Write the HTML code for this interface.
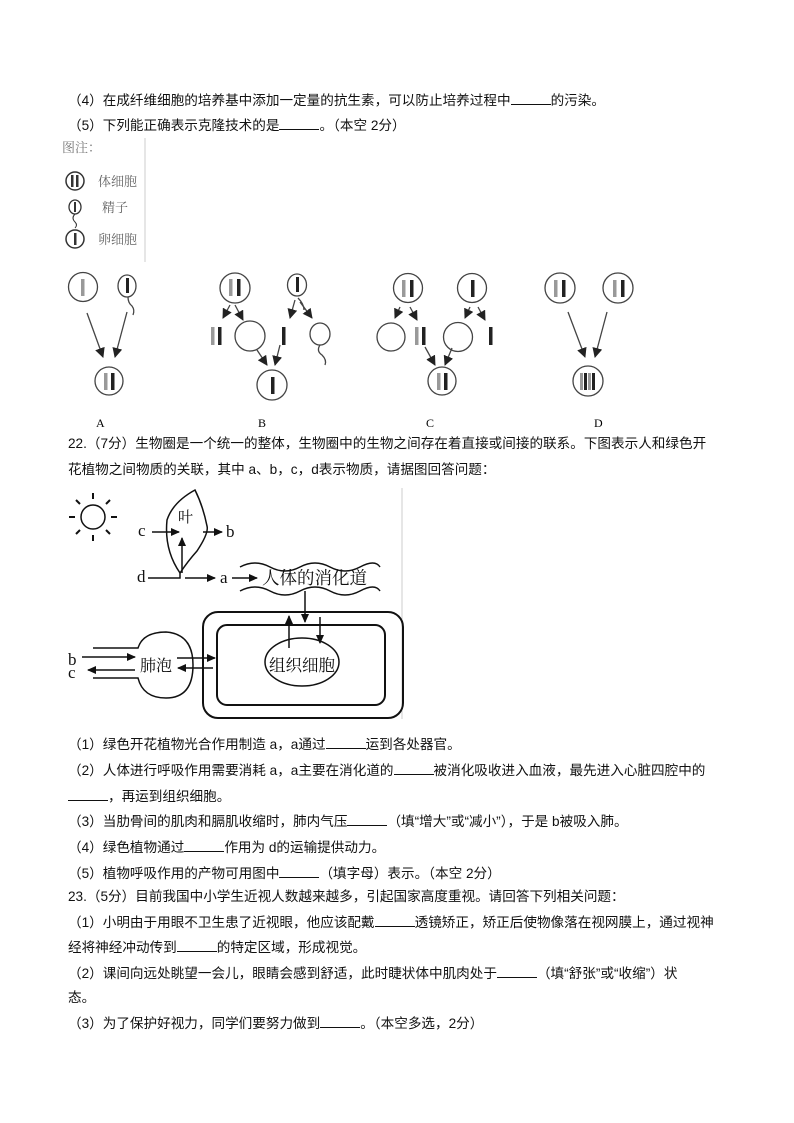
<!DOCTYPE html>
<html><head><meta charset="utf-8"><style>
body{margin:0;background:#fff;}
.p{position:relative;width:794px;height:1123px;font-family:"Liberation Sans","Noto Sans CJK SC",sans-serif;font-size:13.6px;color:#111;}
.l{position:absolute;left:68px;white-space:nowrap;line-height:16px;}
u{text-decoration:none;border-bottom:1px solid #111;display:inline-block;width:40px;height:12px;}
svg{position:absolute;}
</style></head><body><div class="p">
<div class="l" style="top:92px">（4）在成纤维细胞的培养基中添加一定量的抗生素，可以防止培养过程中<u></u>的污染。</div>
<div class="l" style="top:117px">（5）下列能正确表示克隆技术的是<u></u>。（本空 2分）</div>

<svg style="left:60px;top:138px" width="100" height="125">
<line x1="85" y1="0" x2="85" y2="124" stroke="#ccc"/>
<text x="2" y="14" font-size="13" fill="#777" font-family="Noto Serif CJK SC,serif">图注：</text>
<circle cx="15" cy="43" r="9" fill="none" stroke="#333" stroke-width="1.5"/><rect x="11" y="37" width="2.5" height="12" fill="#333"/><rect x="16" y="37" width="2.5" height="12" fill="#333"/>
<text x="38" y="48" font-size="13" fill="#666" font-family="Noto Serif CJK SC,serif">体细胞</text>
<ellipse cx="15" cy="69" rx="6" ry="7" fill="none" stroke="#333" stroke-width="1.3"/><rect x="14" y="64" width="2" height="10" fill="#333"/><path d="M15 76 q-4 4 0 8 q3 3 0 6" fill="none" stroke="#333"/>
<text x="42" y="74" font-size="13" fill="#666" font-family="Noto Serif CJK SC,serif">精子</text>
<circle cx="15" cy="101" r="9" fill="none" stroke="#333" stroke-width="1.5"/><rect x="14" y="95" width="2.5" height="12" fill="#333"/>
<text x="38" y="106" font-size="13" fill="#666" font-family="Noto Serif CJK SC,serif">卵细胞</text>
</svg>

<svg style="left:60px;top:260px" width="620" height="175" font-family="Liberation Serif,serif">
<defs><marker id="ar" markerUnits="userSpaceOnUse" markerWidth="10" markerHeight="10" refX="9" refY="5" orient="auto"><path d="M0,0 L10,5 L0,10z" fill="#222"/></marker></defs>
<g stroke="#444" stroke-width="1.3" fill="none">
<circle cx="23" cy="27" r="14.5"/>
<ellipse cx="67" cy="26" rx="9" ry="11"/><path d="M68 37 q0 6 4 9 q3 4 1 9"/>
<line x1="27" y1="53" x2="43" y2="97" marker-end="url(#ar)"/><line x1="67" y1="52" x2="55" y2="97" marker-end="url(#ar)"/>
<circle cx="49" cy="121" r="14"/>
<circle cx="175" cy="28" r="15"/><ellipse cx="237" cy="25" rx="9.5" ry="11"/>
<line x1="170" y1="45" x2="163" y2="58" marker-end="url(#ar)"/><line x1="175" y1="45" x2="183" y2="60" marker-end="url(#ar)"/>
<line x1="235" y1="40" x2="230" y2="58" marker-end="url(#ar)"/><path d="M238 38 q6 6 6 12"/><line x1="240" y1="42" x2="252" y2="58" marker-end="url(#ar)"/>
<circle cx="190" cy="76" r="15"/><ellipse cx="260" cy="74" rx="10" ry="11"/><path d="M260 85 q-4 6 2 10 q5 5 3 10"/>
<line x1="197" y1="90" x2="207" y2="105" marker-end="url(#ar)"/><line x1="220" y1="85" x2="215" y2="105" marker-end="url(#ar)"/>
<circle cx="212" cy="125" r="15"/>
<circle cx="348" cy="28" r="14.5"/><circle cx="412" cy="28" r="14.5"/>
<line x1="340" y1="47" x2="335" y2="58" marker-end="url(#ar)"/><line x1="350" y1="47" x2="357" y2="60" marker-end="url(#ar)"/>
<line x1="410" y1="47" x2="405" y2="58" marker-end="url(#ar)"/><line x1="418" y1="47" x2="425" y2="60" marker-end="url(#ar)"/>
<circle cx="331" cy="77" r="14"/><circle cx="398" cy="77" r="14.5"/>
<line x1="365" y1="87" x2="375" y2="105" marker-end="url(#ar)"/><line x1="392" y1="88" x2="385" y2="105" marker-end="url(#ar)"/>
<circle cx="382" cy="121" r="14"/>
<circle cx="500" cy="28" r="15"/><circle cx="558" cy="28" r="15"/>
<line x1="508" y1="52" x2="525" y2="97" marker-end="url(#ar)"/><line x1="547" y1="52" x2="535" y2="97" marker-end="url(#ar)"/>
<circle cx="528" cy="121" r="15"/>
</g>
<g fill="#222">
<rect x="21" y="19" width="3.5" height="17" fill="#999"/>
<rect x="66" y="18" width="3" height="15"/>
<rect x="44" y="113" width="3.5" height="17" fill="#999"/><rect x="51" y="113" width="3.5" height="17"/>
<rect x="169" y="19" width="3.5" height="17" fill="#999"/><rect x="177" y="19" width="3.5" height="17"/><rect x="236" y="17" width="3" height="15"/>
<rect x="151" y="67" width="3.5" height="18" fill="#999"/><rect x="158" y="67" width="3.5" height="18"/><rect x="222" y="67" width="3.5" height="18"/>
<rect x="211" y="117" width="3.5" height="17"/>
<rect x="342" y="20" width="3.5" height="17" fill="#999"/><rect x="350" y="20" width="3.5" height="17"/><rect x="411" y="20" width="3.5" height="17"/>
<rect x="355" y="67" width="3.5" height="18" fill="#999"/><rect x="362" y="67" width="3.5" height="18"/><rect x="429" y="67" width="3.5" height="18"/>
<rect x="377" y="113" width="3.5" height="17" fill="#999"/><rect x="384" y="113" width="3.5" height="17"/>
<rect x="494" y="20" width="3.5" height="17" fill="#999"/><rect x="502" y="20" width="3.5" height="17"/>
<rect x="553" y="20" width="3.5" height="17" fill="#999"/><rect x="561" y="20" width="3.5" height="17"/>
<rect x="520" y="113" width="3" height="17" fill="#999"/><rect x="524" y="113" width="3" height="17"/><rect x="528" y="113" width="3" height="17" fill="#999"/><rect x="532" y="113" width="3" height="17"/>
</g>
<g font-size="12"><text x="36" y="167">A</text><text x="198" y="167">B</text><text x="366" y="167">C</text><text x="534" y="167">D</text></g>
</svg>

<div class="l" style="top:436px">22.（7分）生物圈是一个统一的整体，生物圈中的生物之间存在着直接或间接的联系。下图表示人和绿色开</div>
<div class="l" style="top:462px">花植物之间物质的关联，其中 a、b，c，d表示物质，请据图回答问题：</div>

<svg style="left:60px;top:485px" width="350" height="240" font-family="Liberation Serif,Noto Serif CJK SC,serif">
<defs><marker id="a2" markerUnits="userSpaceOnUse" markerWidth="9" markerHeight="8" refX="8" refY="4" orient="auto"><path d="M0,0 L9,4 L0,8z" fill="#111"/></marker></defs>
<line x1="342" y1="3" x2="342" y2="234" stroke="#ccc"/>
<g stroke="#111" stroke-width="1.5" fill="none">
<circle cx="33" cy="32" r="12"/>
<path d="M33 8v6M33 50v6M9 32h6M51 32h6M16 15l4 4M46 45l4 4M50 15l-4 4M16 49l4-4" stroke-width="2"/>
<path d="M135 5 q-22 12 -28 30 q-3 30 13 53 q8 -12 17 -22 q12 -18 10 -25 q-4 -20 -12 -36z"/>
<line x1="92" y1="47" x2="119" y2="47" marker-end="url(#a2)"/><line x1="143" y1="47" x2="162" y2="47" marker-end="url(#a2)"/>
<line x1="122" y1="88" x2="122" y2="53" marker-end="url(#a2)"/>
<path d="M88 93 h32 v-5"/><line x1="125" y1="93" x2="155" y2="93" marker-end="url(#a2)"/>
<line x1="172" y1="93" x2="197" y2="93" marker-end="url(#a2)"/>
<path d="M180 82 q15 -8 30 0 t30 0 t30 0 t30 0 t20 0"/><path d="M180 106 q15 -8 30 0 t30 0 t30 0 t30 0 t20 0"/>
<line x1="245" y1="106" x2="245" y2="137" marker-end="url(#a2)"/>
<rect x="143" y="127" width="200" height="106" rx="15" stroke-width="2"/><rect x="157" y="140" width="168" height="80" rx="10" stroke-width="2"/>
<ellipse cx="242" cy="177" rx="37" ry="24"/>
<line x1="229" y1="163" x2="229" y2="131" marker-end="url(#a2)"/><line x1="260" y1="132" x2="260" y2="158" marker-end="url(#a2)"/>
<path d="M33 163 h45 q5 -16 28 -16 q27 2 27 33 q0 33 -27 33 q-23 0 -28 -20 h-45"/>
<line x1="22" y1="172" x2="75" y2="172" marker-end="url(#a2)"/><line x1="75" y1="185" x2="28" y2="185" marker-end="url(#a2)"/>
<line x1="117" y1="173" x2="155" y2="173" marker-end="url(#a2)"/><line x1="153" y1="183" x2="118" y2="183" marker-end="url(#a2)"/>
</g>
<g font-size="17" fill="#111">
<text x="118" y="37" font-size="15">叶</text>
<text x="78" y="51">c</text><text x="166" y="52">b</text><text x="77" y="97">d</text><text x="160" y="98">a</text>
<text x="202" y="99" font-size="17.5">人体的消化道</text>
<text x="8" y="180">b</text><text x="8" y="193">c</text>
<text x="80" y="186" font-size="16">肺泡</text>
<text x="209" y="186" font-size="16.5">组织细胞</text>
</g>
</svg>

<div class="l" style="top:736px">（1）绿色开花植物光合作用制造 a，a通过<u></u>运到各处器官。</div>
<div class="l" style="top:762px">（2）人体进行呼吸作用需要消耗 a，a主要在消化道的<u></u>被消化吸收进入血液，最先进入心脏四腔中的</div>
<div class="l" style="top:788px"><u></u>，再运到组织细胞。</div>
<div class="l" style="top:813px">（3）当肋骨间的肌肉和膈肌收缩时，肺内气压<u></u>（填“增大”或“减小”），于是 b被吸入肺。</div>
<div class="l" style="top:839px">（4）绿色植物通过<u></u>作用为 d的运输提供动力。</div>
<div class="l" style="top:865px">（5）植物呼吸作用的产物可用图中<u></u>（填字母）表示。（本空 2分）</div>
<div class="l" style="top:889px">23.（5分）目前我国中小学生近视人数越来越多，引起国家高度重视。请回答下列相关问题：</div>
<div class="l" style="top:914px">（1）小明由于用眼不卫生患了近视眼，他应该配戴<u></u>透镜矫正，矫正后使物像落在视网膜上，通过视神</div>
<div class="l" style="top:939px">经将神经冲动传到<u></u>的特定区域，形成视觉。</div>
<div class="l" style="top:965px">（2）课间向远处眺望一会儿，眼睛会感到舒适，此时睫状体中肌肉处于<u></u>（填“舒张”或“收缩”）状</div>
<div class="l" style="top:990px">态。</div>
<div class="l" style="top:1015px">（3）为了保护好视力，同学们要努力做到<u></u>。（本空多选，2分）</div>
</div></body></html>
